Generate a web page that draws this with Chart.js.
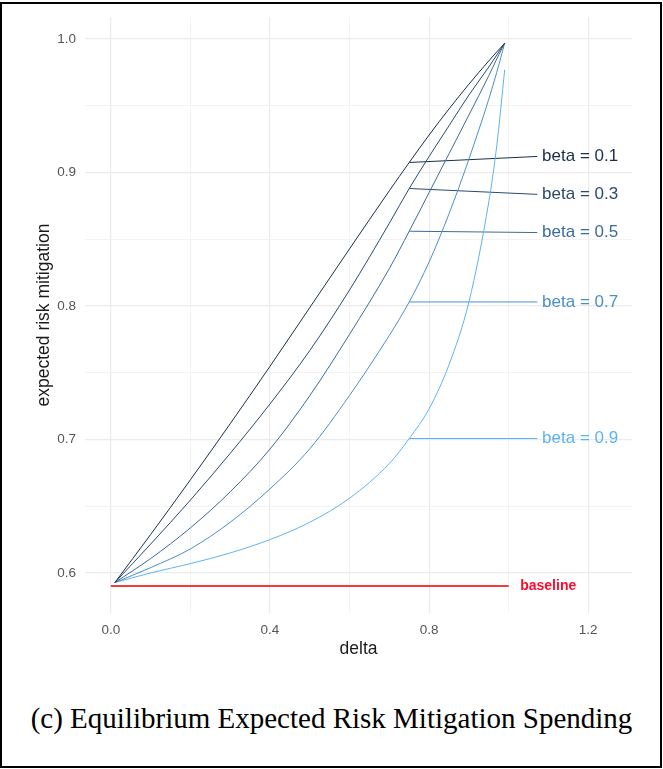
<!DOCTYPE html>
<html>
<head>
<meta charset="utf-8">
<script src="https://cdn.jsdelivr.net/npm/chart.js@4.4.0/dist/chart.umd.min.js"></script>
<style>
  body { margin: 0; background: #fff; }
  #frame { position: absolute; left: 0; top: 2px; width: 662px; height: 766px; box-sizing: border-box; border: 2px solid #000; }
  #wrap { position: absolute; left: 0; top: 0; width: 663px; height: 680px; }
  #caption { position: absolute; left: 0; top: 701px; width: 663px; text-align: center; line-height: 34px;
    font-family: "Liberation Serif", "Times New Roman", serif; font-size: 29px; color: #000; }
</style>
</head>
<body>
<div id="frame"></div>
<div id="wrap"><canvas id="myChart" width="663" height="680"></canvas></div>
<div id="caption">(c) Equilibrium Expected Risk Mitigation Spending</div>
<script>
// delta values where the curves were read
const delta = [0.01, 0.1, 0.2, 0.3, 0.4, 0.5, 0.6, 0.7, 0.75, 0.8, 0.85, 0.9, 0.95, 0.97, 0.99];

const beta01 = [0.5928, 0.6288, 0.6698, 0.7118, 0.7548, 0.7988, 0.8428, 0.8863, 0.9075, 0.9281, 0.9476, 0.9661, 0.9836, 0.9903, 0.9967];
const beta03 = [0.5928, 0.6216, 0.6546, 0.6896, 0.7266, 0.7666, 0.812, 0.862, 0.888, 0.912, 0.935, 0.958, 0.979, 0.988, 0.997];
const beta05 = [0.5928, 0.6108, 0.6338, 0.6608, 0.6928, 0.7328, 0.7788, 0.828, 0.856, 0.885, 0.914, 0.943, 0.9725, 0.985, 0.997];
const beta07 = [0.5928, 0.604, 0.618, 0.638, 0.663, 0.693, 0.733, 0.778, 0.803, 0.833, 0.869, 0.910, 0.955, 0.975, 0.997];
const beta09 = [0.5928, 0.600, 0.607, 0.615, 0.625, 0.638, 0.656, 0.682, 0.7007, 0.723, 0.756, 0.803, 0.878, 0.920, 0.977];

const betaNames = ['beta = 0.1', 'beta = 0.3', 'beta = 0.5', 'beta = 0.7', 'beta = 0.9'];
const betaColors = ['#1a2f47', '#2b4a6b', '#3a6c9a', '#4a8fcb', '#5cb3f7'];
// where each label sits (y) and where its leader line starts on the curve
const labelDelta = 0.75;
const labelY = [0.912, 0.8836, 0.855, 0.803, 0.7007];

const baseline = 0.5903;
const baselineRange = [0, 1];

const xTicks = [0, 0.2, 0.4, 0.6, 0.8, 1.0, 1.2];
const yTicks = [0.6, 0.65, 0.7, 0.75, 0.8, 0.85, 0.9, 0.95, 1.0];

const series = [beta01, beta03, beta05, beta07, beta09];

const datasets = [];
datasets.push({
  data: baselineRange.map(x => ({x: x, y: baseline})),
  borderColor: 'rgb(242,60,60)',
  borderWidth: 2,
  pointRadius: 0
});
series.forEach((s, i) => {
  datasets.push({
    data: delta.map((d, j) => ({x: d, y: s[j]})),
    borderColor: betaColors[i],
    borderWidth: 1,
    pointRadius: 0,
    cubicInterpolationMode: 'monotone'
  });
});
series.forEach((s, i) => {
  const start = s[delta.indexOf(labelDelta)];
  datasets.push({
    data: [{x: labelDelta, y: start}, {x: 1.072, y: labelY[i]}],
    borderColor: betaColors[i],
    borderWidth: 1,
    pointRadius: 0
  });
});

const isMajor = (v, step) => Math.abs(v / step - Math.round(v / step)) < 1e-6;

// texts next to the lines
const labelPlugin = {
  id: 'labels',
  afterDatasetsDraw(chart) {
    const ctx = chart.ctx;
    const xs = chart.scales.x, ys = chart.scales.y;
    ctx.save();
    ctx.textBaseline = 'middle';
    ctx.textAlign = 'left';
    ctx.font = '17px "Liberation Sans", Arial, sans-serif';
    betaNames.forEach((n, i) => {
      ctx.fillStyle = betaColors[i];
      ctx.fillText(n, xs.getPixelForValue(1.084), ys.getPixelForValue(labelY[i]));
    });
    ctx.font = 'bold 14px "Liberation Sans", Arial, sans-serif';
    ctx.fillStyle = '#ff0a2a';
    ctx.fillText('baseline', xs.getPixelForValue(1.029), ys.getPixelForValue(baseline));
    ctx.restore();
  }
};

const config = {
  type: 'line',
  data: {datasets: datasets},
  options: {
    responsive: false,
    animation: false,
    layout: {padding: {top: 15, right: 31, left: 0, bottom: 0}},
    plugins: {legend: {display: false}, tooltip: {enabled: false}},
    scales: {
      x: {
        type: 'linear',
        min: -0.065,
        max: 1.31,
        afterBuildTicks: a => { a.ticks = xTicks.map(v => ({value: v})); },
        afterFit: a => { a.height = 67; },
        border: {display: false},
        grid: {
          drawTicks: false,
          color: c => isMajor(c.tick.value, 0.4) ? '#ebebeb' : '#f3f3f3',
          lineWidth: c => isMajor(c.tick.value, 0.4) ? 1.2 : 1
        },
        ticks: {
          padding: 9,
          color: '#555555',
          font: {family: '"Liberation Sans", Arial, sans-serif', size: 13.5},
          callback: v => isMajor(v, 0.4) ? v.toFixed(1) : ''
        },
        title: {
          display: true,
          text: 'delta',
          color: '#1a1a1a',
          font: {family: '"Liberation Sans", Arial, sans-serif', size: 17.5},
          padding: {top: 0, bottom: 20}
        }
      },
      y: {
        type: 'linear',
        min: 0.57,
        max: 1.0164,
        afterBuildTicks: a => { a.ticks = yTicks.map(v => ({value: v})); },
        afterFit: a => { a.width = 85; },
        border: {display: false},
        grid: {
          drawTicks: false,
          color: c => isMajor(c.tick.value, 0.1) ? '#ebebeb' : '#f3f3f3',
          lineWidth: c => isMajor(c.tick.value, 0.1) ? 1.2 : 1
        },
        ticks: {
          padding: 9,
          color: '#555555',
          font: {family: '"Liberation Sans", Arial, sans-serif', size: 13.5},
          callback: v => isMajor(v, 0.1) ? v.toFixed(1) : ''
        },
        title: {
          display: true,
          text: 'expected risk mitigation',
          color: '#1a1a1a',
          font: {family: '"Liberation Sans", Arial, sans-serif', size: 17.5},
          padding: {top: 34, bottom: 0}
        }
      }
    }
  },
  plugins: [labelPlugin]
};

const myChart = new Chart(document.getElementById('myChart'), config);
</script>
</body>
</html>
